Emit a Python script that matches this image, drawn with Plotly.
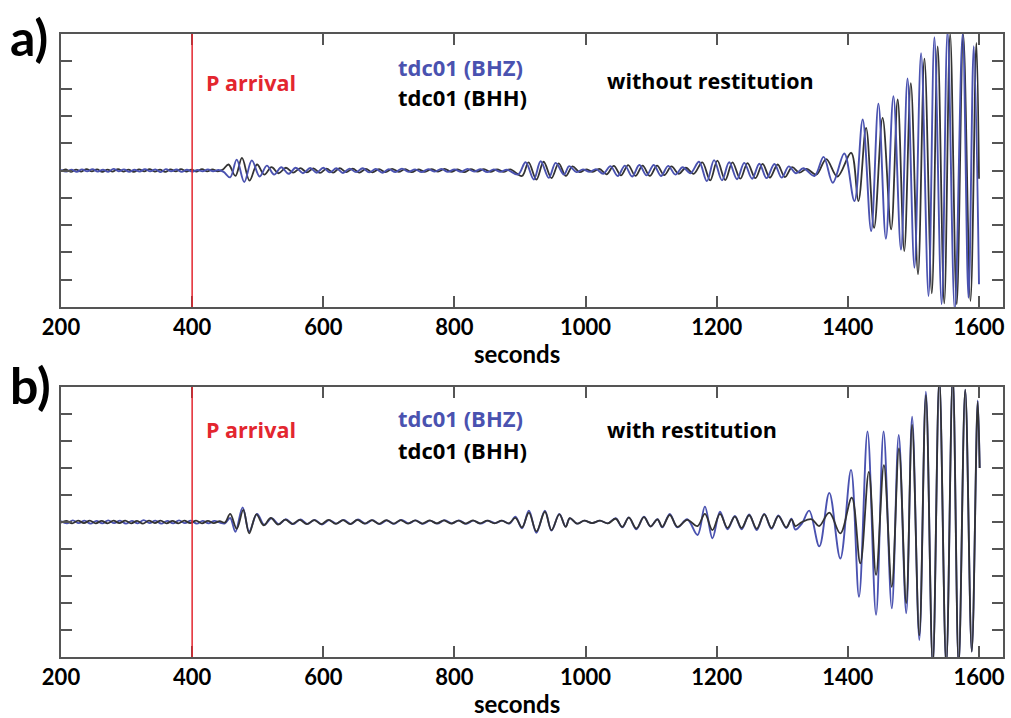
import plotly.graph_objects as go

# ---------------- data (turning points) ----------------
# Panel a) without restitution
a_bhz_t = [200, 208, 216, 224, 232, 240, 248, 256, 264, 272, 280, 288, 296, 304, 312, 320, 328, 336, 344, 352,
           360, 368, 376, 384, 392, 400, 408, 416, 424, 432, 440, 448,
           458, 468, 479.5, 491, 503, 514, 525, 536, 547, 558, 569,
           580, 590, 600, 610, 620, 630, 640, 650, 660, 670, 680, 690, 700, 710, 720, 730, 740, 750, 760, 770,
           780, 790, 800, 810, 820, 830, 840, 850, 860, 870, 880,
           897, 908.6, 921, 931.5, 944, 954.4, 967, 975, 986, 996, 1006, 1016,
           1027, 1038, 1049, 1060, 1071, 1082, 1093, 1104, 1115, 1126, 1137, 1148, 1160,
           1173, 1185, 1196, 1208, 1219, 1231, 1242, 1254, 1265, 1276, 1288, 1299, 1310, 1321, 1332, 1349,
           1363, 1377, 1394.6, 1410, 1422.6, 1435.5, 1446.6, 1458, 1469.5, 1481, 1491, 1501.5, 1511.7, 1523,
           1532, 1543, 1552, 1563, 1575, 1584, 1592, 1600]
a_bhz_v = [0.02, -0.04, 0.03, -0.05, 0.04, -0.03, 0.05, -0.04, 0.03, -0.05, 0.06, -0.03, 0.04, -0.05, 0.03, -0.04, 0.05, -0.03, 0.04, -0.06,
           0.05, -0.03, 0.04, -0.05, 0.03, -0.04, 0.02, -0.03, 0.04, -0.03, 0.02, -0.05,
           -0.25, 0.40, -0.42, 0.37, -0.22, 0.18, -0.15, 0.12, -0.12, 0.10, -0.10,
           0.09, -0.08, 0.10, -0.07, 0.08, -0.09, 0.07, -0.06, 0.08, -0.07, 0.06, -0.08, 0.05, -0.06, 0.07, -0.05, 0.04, -0.06, 0.05, -0.04,
           0.06, -0.05, 0.04, -0.05, 0.06, -0.04, 0.05, -0.06, 0.04, -0.05, 0.03,
           -0.15, 0.30, -0.33, 0.34, -0.27, 0.28, -0.15, 0.16, -0.06, 0.04, -0.05, 0.05,
           -0.12, 0.16, -0.20, 0.18, -0.22, 0.20, -0.18, 0.20, -0.20, 0.17, -0.15, 0.12, -0.10,
           0.32, -0.39, 0.38, -0.36, 0.30, -0.32, 0.28, -0.30, 0.25, -0.28, 0.24, -0.26, 0.15, -0.10, 0.08, -0.20,
           0.50, -0.45, 0.62, -1.12, 1.87, -2.22, 2.45, -2.50, 2.72, -2.90, 3.37, -3.56, 4.30, -4.60,
           4.88, -4.90, 5.10, -5.10, 5.00, -4.66, 4.55, -4.17]

a_bhh_t = [200, 207, 215, 223, 231, 239, 247, 255, 263, 271, 279, 287, 295, 303, 311, 319, 327, 335, 343, 351,
           359, 367, 375, 383, 391, 399, 407, 415, 423, 431, 439, 447,
           455.5, 466, 476, 487.5, 499, 510, 521, 532, 543, 554,
           565, 575, 585, 595, 605, 615, 625, 635, 645, 655, 665, 675, 685, 695, 705, 715, 725, 735, 745, 755,
           765, 775, 785, 795, 805, 815, 825, 835, 845, 855, 865, 875, 885,
           903, 913, 925, 936, 948, 959, 970, 980, 991, 1001, 1011, 1021,
           1032, 1043, 1054, 1065, 1076, 1087, 1098, 1109, 1120, 1131, 1142, 1153, 1165,
           1178, 1190, 1201, 1213, 1224, 1236, 1247, 1259, 1270, 1281, 1293, 1304, 1315, 1326, 1337, 1352,
           1367, 1384, 1405, 1416, 1427.8, 1440, 1453, 1466, 1476, 1486, 1496, 1507, 1516.8, 1528,
           1537, 1547, 1556, 1566, 1576, 1587, 1596, 1600]
a_bhh_v = [-0.03, 0.04, -0.05, 0.03, -0.04, 0.05, -0.03, 0.04, -0.05, 0.03, -0.04, 0.05, -0.04, 0.03, -0.05, 0.04, -0.03, 0.05, -0.04, 0.03,
           -0.05, 0.04, -0.03, 0.05, -0.04, 0.03, -0.04, 0.05, -0.03, 0.04, -0.03, 0.04,
           0.22, -0.20, 0.46, -0.37, 0.22, -0.15, 0.12, -0.10, 0.10, -0.08,
           0.09, -0.07, 0.08, -0.09, 0.07, -0.08, 0.09, -0.06, 0.07, -0.08, 0.06, -0.07, 0.05, -0.06, 0.06, -0.05, 0.05, -0.06, 0.04, -0.05,
           0.05, -0.04, 0.06, -0.05, 0.04, -0.06, 0.05, -0.04, 0.05, -0.05, 0.04, -0.05, 0.04,
           -0.20, 0.30, -0.33, 0.32, -0.28, 0.26, -0.20, 0.15, -0.06, 0.04, -0.05, 0.06,
           -0.14, 0.17, -0.18, 0.20, -0.20, 0.18, -0.20, 0.18, -0.17, 0.15, -0.12, 0.10, -0.12,
           0.30, -0.36, 0.36, -0.35, 0.30, -0.30, 0.27, -0.28, 0.24, -0.26, 0.22, -0.24, 0.12, -0.08, 0.06, -0.15,
           0.42, -0.22, 0.65, -1.12, 1.56, -2.10, 1.93, -2.16, 2.60, -2.95, 3.20, -3.80, 4.10, -4.50,
           4.55, -4.87, 5.00, -4.90, 4.98, -4.78, 4.67, -0.30]

# Panel b) with restitution
b_bhz_t = [200, 209, 218, 227, 236, 245, 254, 263, 272, 281, 290, 299, 308, 317, 326, 335, 344, 353, 362, 371,
           380, 389, 398, 407, 416, 425, 434, 443,
           450, 458, 466, 477, 487, 499, 510, 521, 532, 543,
           554, 565, 576, 587, 598, 609, 620, 631, 642, 653, 664, 675, 686, 697, 708, 719, 730, 741, 752, 763,
           774, 785, 796, 807, 818, 829, 840, 851, 862, 873, 884,
           893, 903, 913.6, 925, 938, 948, 960, 969.6, 976, 987, 998, 1010, 1022, 1034,
           1046, 1056, 1066, 1077.5, 1089, 1099, 1109.6, 1117, 1128.4, 1140, 1155, 1170.7,
           1182, 1193.5, 1205, 1216.5, 1227.7, 1238, 1249.5, 1261, 1272.5, 1283.6, 1294, 1306, 1314, 1320, 1330,
           1341, 1356.5, 1371.7, 1388.5, 1404.8, 1417, 1430, 1443, 1454.5, 1467, 1477.6, 1489, 1498, 1509,
           1519, 1529.5, 1539.5, 1550, 1560, 1569, 1579, 1589, 1598, 1601]
b_bhz_v = [0.03, -0.05, 0.06, -0.04, 0.05, -0.06, 0.04, -0.05, 0.06, -0.04, 0.05, -0.06, 0.04, -0.05, 0.07, -0.04, 0.05, -0.06, 0.04, -0.05,
           0.06, -0.04, 0.05, -0.06, 0.04, -0.05, 0.04, -0.03,
           -0.05, 0.15, -0.36, 0.54, -0.35, 0.30, -0.11, 0.14, -0.08, 0.10,
           -0.08, 0.09, -0.07, 0.08, -0.09, 0.07, -0.06, 0.08, -0.07, 0.09, -0.06, 0.07, -0.08, 0.06, -0.07, 0.08, -0.05, 0.06, -0.07, 0.05,
           -0.06, 0.07, -0.05, 0.06, -0.07, 0.05, -0.06, 0.05, -0.04, 0.05, -0.06,
           0.20, -0.23, 0.42, -0.40, 0.42, -0.32, 0.30, -0.17, 0.14, -0.06, 0.05, -0.04, 0.05, -0.05,
           0.14, -0.20, 0.17, -0.27, 0.20, -0.17, 0.10, -0.20, 0.30, -0.20, 0.10, -0.48,
           0.57, -0.60, 0.38, -0.27, 0.22, -0.27, 0.28, -0.30, 0.30, -0.25, 0.24, -0.22, 0.12, -0.28, -0.05,
           0.42, -0.90, 1.08, -1.35, 1.93, -2.77, 3.35, -3.44, 3.35, -3.20, 3.22, -3.38, 3.90, -4.37,
           4.83, -5.30, 5.30, -5.30, 5.40, -5.30, 4.90, -4.80, 4.50, 2.00]

b_bhh_t = [200, 208, 217, 226, 235, 244, 253, 262, 271, 280, 289, 298, 307, 316, 325, 334, 343, 352, 361, 370,
           379, 388, 397, 406, 415, 424, 433, 442,
           450, 458, 468, 478, 487, 498, 509, 520, 531, 542,
           553, 564, 575, 586, 597, 608, 619, 630, 641, 652, 663, 674, 685, 696, 707, 718, 729, 740, 751, 762,
           773, 784, 795, 806, 817, 828, 839, 850, 861, 872, 883,
           893, 903, 913.6, 925, 938, 948, 960, 969.6, 976, 987, 998, 1010, 1022, 1034,
           1046, 1056, 1066, 1077.5, 1089, 1099, 1109.6, 1117, 1128.4, 1140, 1155, 1170.7,
           1182, 1193.5, 1205, 1216.5, 1227.7, 1238, 1249.5, 1261, 1272.5, 1283.6, 1294, 1306, 1314, 1320, 1330,
           1345, 1356, 1371.7, 1388.5, 1406, 1419, 1432, 1443, 1455, 1467, 1478, 1489, 1498, 1509,
           1519, 1529.5, 1539.5, 1550, 1560, 1569, 1579, 1589, 1598, 1601]
b_bhh_v = [-0.03, 0.04, -0.05, 0.05, -0.04, 0.05, -0.05, 0.04, -0.05, 0.05, -0.04, 0.05, -0.05, 0.04, -0.06, 0.05, -0.04, 0.05, -0.05, 0.04,
           -0.05, 0.05, -0.04, 0.05, -0.05, 0.04, -0.04, 0.03,
           -0.02, 0.30, -0.25, 0.45, -0.42, 0.28, -0.12, 0.15, -0.10, 0.09,
           -0.07, 0.08, -0.08, 0.07, -0.08, 0.08, -0.07, 0.07, -0.08, 0.08, -0.06, 0.07, -0.07, 0.07, -0.06, 0.07, -0.06, 0.06, -0.06, 0.06,
           -0.05, 0.06, -0.06, 0.05, -0.06, 0.06, -0.05, 0.05, -0.05, 0.05, -0.05,
           0.15, -0.20, 0.35, -0.35, 0.38, -0.30, 0.28, -0.18, 0.14, -0.06, 0.05, -0.04, 0.05, -0.05,
           0.12, -0.18, 0.16, -0.24, 0.18, -0.16, 0.10, -0.18, 0.26, -0.18, 0.08, -0.15,
           0.30, -0.30, 0.30, -0.22, 0.20, -0.22, 0.25, -0.25, 0.28, -0.22, 0.22, -0.20, 0.10, -0.15, 0.00,
           0.10, -0.15, 0.35, -0.42, 0.90, -1.53, 1.86, -1.96, 2.11, -2.40, 2.73, -3.00, 3.60, -4.20,
           4.70, -5.30, 5.30, -5.30, 5.40, -5.30, 4.90, -4.80, 4.45, 2.00]

x_ticks = [200, 400, 600, 800, 1000, 1200, 1400, 1600]
p_arrival = 400

# ---------------- figure ----------------
W, H = 1011, 718
BLUE = "#4a52b0"
DARK = "#333333"
RED = "#e3262f"
AXC = "#555555"
FONT = "Lato"
TFONT = "Open Sans"

def px(x):
    return x / W

def py(y):
    return 1 - y / H

fig = go.Figure()
line_b = dict(color=BLUE, width=1.9, shape="spline", smoothing=1.0)
line_k = dict(color=DARK, width=1.8, shape="spline", smoothing=1.0)

fig.add_trace(go.Scatter(x=a_bhh_t, y=a_bhh_v, mode="lines", line=line_k, xaxis="x", yaxis="y", showlegend=False))
fig.add_trace(go.Scatter(x=a_bhz_t, y=a_bhz_v, mode="lines", line=line_b, xaxis="x", yaxis="y", showlegend=False))
fig.add_trace(go.Scatter(x=b_bhz_t, y=b_bhz_v, mode="lines", line=line_b, xaxis="x2", yaxis="y2", showlegend=False))
fig.add_trace(go.Scatter(x=b_bhh_t, y=b_bhh_v, mode="lines", line=line_k, xaxis="x2", yaxis="y2", showlegend=False))

xdom = [px(61), px(1003)]
xa = dict(range=[200, 1636.6], tickvals=x_ticks, ticktext=[str(v) for v in x_ticks],
          ticks="inside", ticklen=11, tickwidth=1.5, tickcolor=AXC,
          showline=True, linecolor=AXC, linewidth=1.5, mirror="ticks",
          showgrid=False, zeroline=False, domain=xdom, automargin=False,
          tickfont=dict(family=FONT, size=22, color="black", weight="bold"))
ya = dict(range=[-5, 5], dtick=1, tick0=0, ticks="inside", ticklen=11, tickwidth=1.5, tickcolor=AXC,
          showticklabels=False, showline=True, linecolor=AXC, linewidth=1.5, mirror="ticks",
          showgrid=False, zeroline=False, automargin=False)

fig.update_layout(
    width=W, height=H, margin=dict(l=0, r=0, t=0, b=0, pad=0, autoexpand=False),
    paper_bgcolor="white", plot_bgcolor="white",
    xaxis=dict(xa, anchor="y"),
    yaxis=dict(ya, domain=[py(307), py(34)], anchor="x"),
    xaxis2=dict(xa, anchor="y2"),
    yaxis2=dict(ya, domain=[py(657), py(387)], anchor="x2"),
)

for xr, yr in (("x", "y domain"), ("x2", "y2 domain")):
    fig.add_shape(type="line", xref=xr, yref=yr, x0=p_arrival, x1=p_arrival, y0=0, y1=1,
                  line=dict(color=RED, width=1.5), layer="above")

def txt(s, x, y, size, color, xanchor="left", family=TFONT):
    fig.add_annotation(text=s, x=px(x), y=py(y), xref="paper", yref="paper", showarrow=False,
                       xanchor=xanchor, yanchor="middle",
                       font=dict(family=family, size=size, color=color, weight="bold"))

# panel labels
txt("a)", 8, 37, 50, "black", family=FONT)
txt("b)", 8, 385, 50, "black", family=FONT)
# panel a texts
txt("P arrival", 204, 82, 21.5, RED)
txt("tdc01 (BHZ)", 460, 67, 22, BLUE, "center")
txt("tdc01 (BHH)", 462, 97, 22, "black", "center")
txt("without restitution", 605, 81, 21.5, "black")
# panel b texts
txt("P arrival", 204, 430, 21.5, RED)
txt("tdc01 (BHZ)", 460, 418, 22, BLUE, "center")
txt("tdc01 (BHH)", 462, 450, 22, "black", "center")
txt("with restitution", 605, 430, 21.5, "black")
# axis titles
txt("seconds", 517, 353, 24, "black", "center", family=FONT)
txt("seconds", 517, 703, 24, "black", "center", family=FONT)

fig.write_html("out.html")
